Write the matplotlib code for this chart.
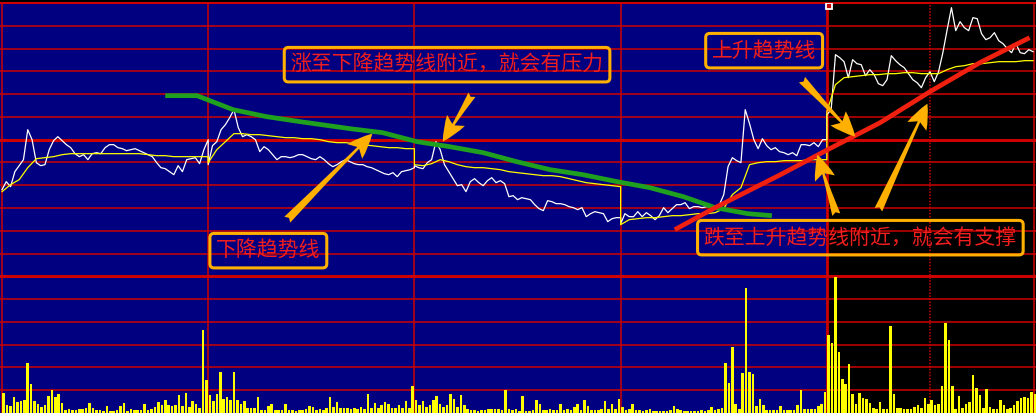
import numpy as np
import matplotlib.pyplot as plt

plt.rcParams['font.family'] = ['Noto Sans CJK SC', 'DejaVu Sans']

# 五个交易日的分时数据 (每天240分钟)
# 价格每5分钟取一个点, 均价每10分钟, 成交量每4分钟一根
prev_close = 3000

price_d1 = [2950, 2958, 2953, 2968, 2974, 2980, 3010, 3000, 2977, 2974,
            2975, 2990, 2999, 3003, 2999, 2995, 2992, 2986, 2983, 2985,
            2980, 2986, 2987, 2986, 2992, 2995, 2995, 2992, 2991, 2989,
            2990, 2991, 2989, 2987, 2985, 2983, 2977, 2972, 2971, 2968,
            2965, 2974, 2968, 2980, 2981, 2982, 2976, 2990, 3000]
price_d2 = [2975, 2994, 2998, 3010, 3015, 3022, 3030, 3012, 3003, 3005,
            3003, 3000, 2988, 2993, 2990, 2985, 2980, 2983, 2983, 2982,
            2983, 2985, 2985, 2983, 2981, 2980, 2983, 2980, 2976, 2973,
            2975, 2978, 2980, 2978, 2976, 2975, 2975, 2973, 2972, 2970,
            2968, 2966, 2965, 2967, 2963, 2968, 2969, 2970, 2972]
price_d3 = [2974, 2972, 2971, 2977, 2980, 2998, 2990, 2975, 2968, 2961,
            2954, 2955, 2948, 2958, 2961, 2957, 2954, 2959, 2962, 2957,
            2959, 2956, 2943, 2944, 2940, 2942, 2941, 2940, 2935, 2931,
            2929, 2939, 2938, 2936, 2936, 2935, 2933, 2932, 2930, 2932,
            2923, 2926, 2928, 2927, 2926, 2918, 2921, 2922, 2922]
price_d4 = [2916, 2926, 2923, 2923, 2928, 2923, 2927, 2924, 2920, 2924,
            2932, 2927, 2931, 2935, 2935, 2937, 2931, 2933, 2933, 2932,
            2933, 2933, 2932, 2935, 2945, 2973, 2982, 2979, 2977, 3030,
            3016, 3000, 2991, 3001, 2994, 2990, 2992, 2988, 2987, 2985,
            2987, 2984, 2995, 2995, 2994, 2997, 2993, 3000, 3000]
price_d5 = [3025, 3030, 3085, 3082, 3078, 3062, 3080, 3076, 3075, 3064,
            3070, 3065, 3056, 3054, 3060, 3084, 3079, 3075, 3072, 3066,
            3060, 3057, 3052, 3062, 3068, 3058, 3068, 3087, 3110, 3132,
            3109, 3118, 3112, 3109, 3122, 3121, 3106, 3100, 3102, 3107,
            3099, 3096, 3091, 3087, 3096, 3087, 3086, 3090, 3088]

avg_d1 = [2948, 2955, 2960, 2972, 2981, 2982, 2983, 2985, 2986, 2986, 2986, 2986, 2986,
          2986, 2986, 2986, 2986, 2985, 2984, 2984, 2983, 2983, 2983, 2983, 2983]
avg_d2 = [2977, 2990, 2998, 3006, 3006, 3005, 3005, 3004, 3003, 3002, 3002, 3001, 3001,
          3000, 2998, 2997, 2997, 2996, 2995, 2994, 2993, 2992, 2992, 2991, 2991]
avg_d3 = [2975, 2974, 2976, 2980, 2978, 2975, 2973, 2972, 2972, 2971, 2970, 2968, 2967,
          2966, 2965, 2964, 2964, 2963, 2961, 2959, 2957, 2956, 2955, 2954, 2953]
avg_d4 = [2915, 2920, 2921, 2922, 2922, 2923, 2924, 2924, 2925, 2926, 2926, 2927, 2931,
          2945, 2952, 2975, 2977, 2978, 2978, 2979, 2979, 2979, 2980, 2980, 2980]
avg_d5 = [3028, 3055, 3062, 3063, 3064, 3065, 3065, 3066, 3066, 3067, 3067, 3066, 3066,
          3066, 3070, 3073, 3074, 3076, 3076, 3077, 3078, 3078, 3078, 3079, 3079]

vol_d1 = [20, 8, 7, 16, 11, 12, 13, 50, 29, 12, 9, 6, 8, 17, 23, 16, 19, 10, 3, 4,
          3, 3, 4, 4, 5, 10, 5, 3, 3, 2, 7, 2, 2, 3, 7, 10, 2, 4, 3, 3,
          3, 9, 3, 4, 6, 11, 8, 13, 8, 7, 8, 18, 7, 20, 6, 12, 9, 5, 83, 33]
vol_d2 = [18, 12, 19, 41, 14, 16, 13, 41, 13, 9, 12, 5, 5, 5, 16, 3, 3, 7, 9, 3,
          3, 3, 9, 3, 3, 2, 3, 3, 4, 7, 6, 3, 4, 3, 5, 16, 6, 11, 5, 5,
          5, 4, 5, 4, 6, 4, 19, 5, 10, 5, 8, 11, 9, 5, 5, 8, 5, 12, 5, 27]
vol_d3 = [13, 8, 12, 6, 8, 13, 17, 9, 6, 8, 19, 14, 6, 18, 8, 4, 3, 3, 2, 3,
          3, 4, 4, 4, 4, 3, 23, 4, 3, 4, 2, 17, 2, 2, 3, 13, 9, 3, 3, 4,
          3, 3, 9, 3, 4, 3, 6, 9, 3, 13, 7, 3, 3, 3, 4, 12, 4, 9, 4, 14]
vol_d4 = [6, 3, 4, 9, 3, 3, 2, 3, 4, 2, 2, 2, 2, 2, 3, 7, 4, 3, 2, 2,
          2, 2, 2, 3, 2, 3, 6, 3, 4, 5, 50, 30, 66, 9, 4, 40, 125, 41, 39, 7,
          14, 8, 3, 3, 3, 3, 7, 3, 3, 3, 3, 8, 23, 4, 4, 4, 4, 7, 9, 21]
vol_d5 = [78, 70, 136, 61, 34, 29, 49, 19, 9, 20, 15, 14, 10, 5, 4, 11, 4, 4, 87, 19,
          5, 5, 4, 4, 4, 6, 8, 5, 15, 9, 13, 8, 9, 27, 90, 73, 27, 4, 17, 5,
          9, 11, 38, 25, 18, 5, 24, 6, 4, 4, 13, 8, 4, 5, 8, 12, 15, 16, 15, 21, 19]

# 趋势线 (分钟, 点位)
down_trend_t = [190, 227, 239, 269, 308, 347, 405, 443, 483, 521,
                560, 599, 638, 676, 716, 754, 793, 830, 868, 896]
down_trend_p = [3044, 3044, 3040, 3030, 3023, 3018, 3011, 3007, 2998, 2993,
                2987, 2978, 2970, 2965, 2958, 2952, 2943, 2932, 2926, 2924]
up_trend_t = [783, 830, 906, 961, 1022, 1080, 1138, 1196]
up_trend_p = [2910, 2932, 2965, 2990, 3017, 3048, 3077, 3102]

notes = ['涨至下降趋势线附近，就会有压力', '上升趋势线', '下降趋势线', '跌至上升趋势线附近，就会有支撑']
note_pos = [(518, 3075), (887, 3089), (310, 2889), (999, 2902)]
arrows = [((332, 2920), (431, 3006)), ((547, 3045), (513, 2998)),
          ((931, 3060), (993, 3003)), ((971, 2925), (949, 2985)),
          ((1020, 2930), (1077, 3036))]

days = [price_d1, price_d2, price_d3, price_d4, price_d5]
avgs = [avg_d1, avg_d2, avg_d3, avg_d4, avg_d5]
vols = [vol_d1, vol_d2, vol_d3, vol_d4, vol_d5]

t_price = np.concatenate([240 * d + 5 * np.arange(len(p)) for d, p in enumerate(days)])
t_avg = np.concatenate([240 * d + 10 * np.arange(len(a)) for d, a in enumerate(avgs)])
t_vol = np.concatenate([240 * d + 4 * np.arange(len(v)) + 2 for d, v in enumerate(vols)])

grid_red = '#CC0000'
gold = '#FFB000'
step = 410 / 18

fig = plt.figure(figsize=(10.36, 4.13), dpi=100, facecolor='black')
ax = fig.add_axes([0, 0, 1, 410 / 413])
ax.set_facecolor('#000080')
ax.set_xlim(-2.3, 1203.4)
ax.set_ylim(prev_close - 12 * step, prev_close + 6 * step)
ax.set_xticks([])
ax.set_yticks([])
for s in ax.spines.values():
    s.set_visible(False)
ax.spines['top'].set_visible(True)
ax.spines['top'].set_color(grid_red)
ax.spines['top'].set_linewidth(1.5)

ax.axvspan(960, 1203.4, color='black', zorder=0)

# 网格
for k in range(-11, 6):
    thick = k in (0, -6)
    ax.axhline(prev_close + k * step, color=grid_red, lw=2.2 if thick else 1.1, zorder=1)
for t in [0, 240, 480, 720]:
    ax.axvline(t, color=grid_red, lw=1.1, zorder=1)
ax.axvline(960, color=grid_red, lw=2.0, zorder=1)
ax.axvline(1080, color=grid_red, lw=1.1, ls=(0, (1, 1)), zorder=1)
ax.axvline(1201, color=grid_red, lw=1.1, zorder=1)

ax.plot(t_price, np.concatenate(days), color='white', lw=0.9, zorder=3)
ax.plot(t_avg, np.concatenate(avgs), color='#FFFF00', lw=0.9, zorder=3)

ax.plot(down_trend_t, down_trend_p, color='#1FA01F', lw=3.4, zorder=4, solid_capstyle='butt')
ax.plot(up_trend_t, up_trend_p, color='#F02010', lw=3.4, zorder=4, solid_capstyle='butt')

ax.plot(962, 3134, marker='s', ms=4.5, mfc='#C00000', mec='white', mew=1.3, zorder=5)

for (tail, head) in arrows:
    ax.annotate('', xy=head, xytext=tail, zorder=6,
                arrowprops=dict(arrowstyle='fancy,head_length=0.9,head_width=0.75,tail_width=0.3',
                                fc=gold, ec='none', mutation_scale=20, shrinkA=0, shrinkB=0))

for txt, (tx, ty) in zip(notes, note_pos):
    ax.text(tx, ty, txt, color='#F01E1E', fontsize=15, ha='center', va='center', zorder=7,
            bbox=dict(boxstyle='round,pad=0.3,rounding_size=0.2', fc='none', ec=gold, lw=2.2))

# 成交量
axv = ax.twinx()
axv.set_ylim(0, 410)
axv.bar(t_vol, np.concatenate(vols), width=3, color='#FFFF00', zorder=2)
axv.set_yticks([])
for s in axv.spines.values():
    s.set_visible(False)

fig.savefig('out.png', dpi=100, facecolor='black')
